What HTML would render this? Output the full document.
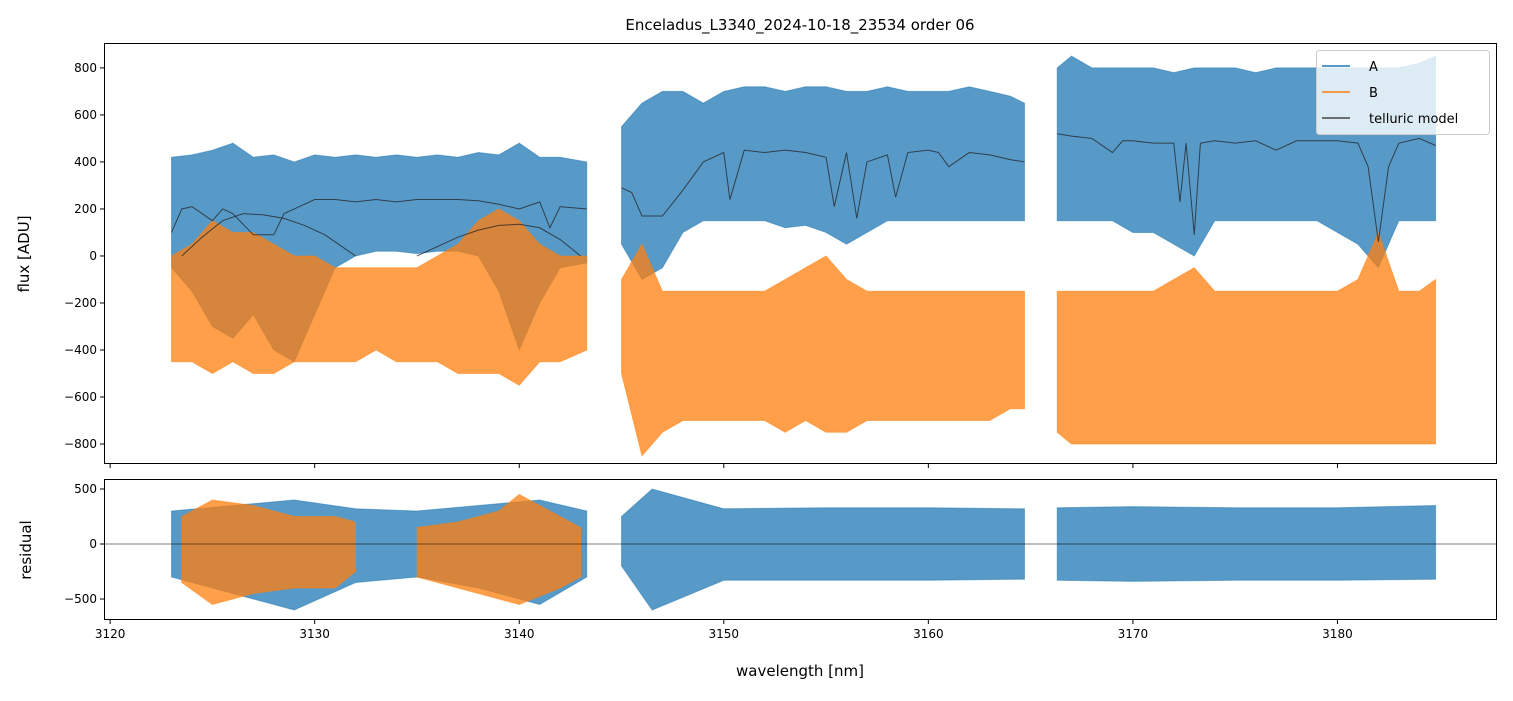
<!DOCTYPE html>
<html><head><meta charset="utf-8"><style>
body{margin:0;background:#fff;font-family:"Liberation Sans","DejaVu Sans",sans-serif}
svg text{font-family:"DejaVu Sans","Liberation Sans",sans-serif}
</style></head><body>
<svg id="c" width="1513" height="696"></svg>
<script>
// ---- data ----
const seg1X=[3123,3124,3125,3126,3127,3128,3129,3130,3131,3132,3133,3134,3135,3136,3137,3138,3139,3140,3141,3142,3143.3];
const seg1AUp=[420,430,450,480,420,430,400,430,420,430,420,430,420,430,420,440,430,480,420,420,400];
const seg1ALo=[-50,-150,-300,-350,-250,-400,-450,-250,-50,0,20,20,10,20,20,0,-150,-400,-200,-50,-30];
const seg1BUp=[0,50,150,100,100,50,0,0,-50,-50,-50,-50,-50,0,50,150,200,150,50,0,0];
const seg1BLo=[-450,-450,-500,-450,-500,-500,-450,-450,-450,-450,-400,-450,-450,-450,-500,-500,-500,-550,-450,-450,-400];
const seg2X=[3145,3146,3147,3148,3149,3150,3151,3152,3153,3154,3155,3156,3157,3158,3159,3160,3161,3162,3163,3164,3164.7];
const seg2AUp=[550,650,700,700,650,700,720,720,700,720,720,700,700,720,700,700,700,720,700,680,650];
const seg2ALo=[50,-100,-50,100,150,150,150,150,120,130,100,50,100,150,150,150,150,150,150,150,150];
const seg2BUp=[-100,50,-150,-150,-150,-150,-150,-150,-100,-50,0,-100,-150,-150,-150,-150,-150,-150,-150,-150,-150];
const seg2BLo=[-500,-850,-750,-700,-700,-700,-700,-700,-750,-700,-750,-750,-700,-700,-700,-700,-700,-700,-700,-650,-650];
const seg3X=[3166.3,3167,3168,3169,3170,3171,3172,3173,3174,3175,3176,3177,3178,3179,3180,3181,3182,3183,3184,3184.8];
const seg3AUp=[800,850,800,800,800,800,780,800,800,800,780,800,800,800,800,800,800,800,820,850];
const seg3ALo=[150,150,150,150,100,100,50,0,150,150,150,150,150,150,100,50,-50,150,150,150];
const seg3BUp=[-150,-150,-150,-150,-150,-150,-100,-50,-150,-150,-150,-150,-150,-150,-150,-100,100,-150,-150,-100];
const seg3BLo=[-750,-800,-800,-800,-800,-800,-800,-800,-800,-800,-800,-800,-800,-800,-800,-800,-800,-800,-800,-800];
const modelX=[3123,3123.5,3124,3125,3125.5,3126,3127,3128,3128.5,3129,3130,3131,3132,3133,3134,3135,3136,3137,3138,3139,3140,3141,3141.5,3142,3143.3,
 3145,3145.5,3146,3147,3148,3149,3150,3150.3,3151,3152,3153,3154,3155,3155.4,3156,3156.5,3157,3158,3158.4,3159,3160,3160.5,3161,3162,3163,3164,3164.7];
const modelY=[100,200,210,150,200,180,90,90,180,200,240,240,230,240,230,240,240,240,235,220,200,230,120,210,200,
 290,270,170,170,280,400,440,240,450,440,450,440,420,210,440,160,400,430,250,440,450,440,380,440,430,410,400];
const model3X=[3166.3,3167,3168,3169,3169.5,3170,3171,3172,3172.3,3172.6,3173,3173.3,3174,3175,3176,3177,3178,3179,3180,3181,3181.5,3182,3182.5,3183,3184,3184.8];
const model3Y=[520,510,500,440,490,490,480,480,230,480,90,480,490,480,490,450,490,490,490,480,380,60,380,480,500,470];
const fit1X=[3123.5,3124.5,3125.5,3126.5,3127.5,3128.5,3129.5,3130.5,3131.5,3132];
const fit1Y=[0,80,150,180,175,160,130,90,30,0];
const fit2X=[3135,3136,3137,3138,3139,3140,3141,3142,3143];
const fit2Y=[0,40,80,110,130,135,120,70,0];
const resSegX=[[3123,3126,3129,3132,3135,3138,3141,3143.3],[3145,3146.5,3150,3155,3160,3164.7],[3166.3,3170,3175,3180,3184.8]];
const resAUp=[[300,350,400,320,300,350,400,300],[250,500,320,330,330,320],[330,340,330,330,350]];
const resALo=[[-300,-450,-600,-350,-300,-400,-550,-300],[-200,-600,-330,-330,-330,-320],[-330,-340,-330,-330,-320]];
const resBX=[[3123.5,3125,3127,3129,3131,3132],[3135,3137,3139,3140,3142,3143]];
const resBUp=[[250,400,350,250,250,200],[150,200,300,450,250,150]];
const resBLo=[[-350,-550,-450,-400,-400,-250],[-300,-400,-500,-550,-400,-300]];
const xTicks=[3120,3130,3140,3150,3160,3170,3180];
const yTicks=[-800,-600,-400,-200,0,200,400,600,800];
const rTicks=[-500,0,500];
// ---- scales ----
const NS='http://www.w3.org/2000/svg',svg=document.getElementById('c');
const X0=104,X1=1497,xMin=3119.7,xMax=3187.8;
const sx=v=>X0+(v-xMin)/(xMax-xMin)*(X1-X0);
const T0=43,T1=464,tMin=-885,tMax=906;
const sy=v=>T1-(v-tMin)/(tMax-tMin)*(T1-T0);
const R0=479,R1=620,rMin=-691,rMax=591;
const ry=v=>R1-(v-rMin)/(rMax-rMin)*(R1-R0);
function el(t,a,p){const e=document.createElementNS(NS,t);for(const k in a)e.setAttribute(k,a[k]);(p||svg).appendChild(e);return e;}
const clipD=el('defs',{});
const c1=el('clipPath',{id:'ct'},clipD);el('rect',{x:X0,y:T0,width:X1-X0,height:T1-T0},c1);
const c2=el('clipPath',{id:'cr'},clipD);el('rect',{x:X0,y:R0,width:X1-X0,height:R1-R0},c2);
const gT=el('g',{'clip-path':'url(#ct)'});
const gR=el('g',{'clip-path':'url(#cr)'});
function band(xs,up,lo,yf,col,g,name){
  let pts=xs.map((x,i)=>sx(x)+','+yf(up[i]));
  for(let i=xs.length-1;i>=0;i--)pts.push(sx(xs[i])+','+yf(lo[i]));
  const p=el('polygon',{points:pts.join(' '),fill:col,'fill-opacity':0.75,stroke:col,'stroke-width':1,'stroke-opacity':0.5},g);
  
  
}
function line(xs,ys,yf,g,name,w,op){
  const p=el('polyline',{points:xs.map((x,i)=>sx(x)+','+yf(ys[i])).join(' '),fill:'none',stroke:'#222','stroke-width':w,'stroke-opacity':op},g);
  
  
}
const A='#1f77b4',B='#ff7f0e';
band(seg1X,seg1AUp,seg1ALo,sy,A,gT,'series-a-seg1');
band(seg2X,seg2AUp,seg2ALo,sy,A,gT,'series-a-seg2');
band(seg3X,seg3AUp,seg3ALo,sy,A,gT,'series-a-seg3');
band(seg1X,seg1BUp,seg1BLo,sy,B,gT,'series-b-seg1');
band(seg2X,seg2BUp,seg2BLo,sy,B,gT,'series-b-seg2');
band(seg3X,seg3BUp,seg3BLo,sy,B,gT,'series-b-seg3');
line(modelX.slice(0,25),modelY.slice(0,25),sy,gT,'telluric-model-seg1',1,0.75);
line(modelX.slice(25),modelY.slice(25),sy,gT,'telluric-model-seg2',1,0.75);
line(model3X,model3Y,sy,gT,'telluric-model-seg3',1,0.75);
line(fit1X,fit1Y,sy,gT,'continuum-fit-1',1,0.75);
line(fit2X,fit2Y,sy,gT,'continuum-fit-2',1,0.75);
resSegX.forEach((xs,i)=>band(xs,resAUp[i],resALo[i],ry,A,gR,'residual-a-seg'+(i+1)));
resBX.forEach((xs,i)=>band(xs,resBUp[i],resBLo[i],ry,B,gR,'residual-b-seg'+(i+1)));
const zl=el('line',{x1:X0,x2:X1,y1:ry(0),y2:ry(0),stroke:'#000','stroke-width':0.6},gR);

[[T0,T1,'flux-axes-frame'],[R0,R1,'residual-axes-frame']].forEach(([a,b,n])=>{
  const r=el('rect',{x:X0+.5,y:a+.5,width:X1-X0-1,height:b-a-1,fill:'none',stroke:'#000','stroke-width':1});
  
});
function txt(x,y,s,sz,anc,name,rot){
  const t=el('text',{x:x,y:y,'font-size':sz,'text-anchor':anc,fill:'#000'});
  if(rot)t.setAttribute('transform',`rotate(-90 ${x} ${y})`);
  t.textContent=s;return t;
}
xTicks.forEach(v=>{
  const x=sx(v);
  el('line',{x1:x,x2:x,y1:T1,y2:T1+4,stroke:'#000'});
  el('line',{x1:x,x2:x,y1:R1,y2:R1+4,stroke:'#000'});
  txt(x,638,String(v),12,'middle','x-tick-label');
});
yTicks.forEach(v=>{
  const y=sy(v);el('line',{x1:X0-4,x2:X0,y1:y,y2:y,stroke:'#000'});
  txt(X0-7,y+4,v<0?'\u2212'+(-v):String(v),12,'end','y-tick-label');
});
rTicks.forEach(v=>{
  const y=ry(v);el('line',{x1:X0-4,x2:X0,y1:y,y2:y,stroke:'#000'});
  txt(X0-7,y+4,v<0?'\u2212'+(-v):String(v),12,'end','residual-tick-label');
});
txt(800,30,'Enceladus_L3340_2024-10-18_23534  order 06',15,'middle','chart-title');
txt(800,676,'wavelength [nm]',15,'middle','x-axis-title');
txt(29,254,'flux [ADU]',15,'middle','y-axis-title',true);
txt(31,550,'residual',15,'middle','residual-axis-title',true);
const lg=el('g',{});
el('rect',{x:1316.5,y:50.5,width:173,height:84,rx:3,fill:'#fff','fill-opacity':0.8,stroke:'#ccc'},lg);
[['A',A,66],['B',B,92],['telluric model','#444',118]].forEach(([s,c,y])=>{
  el('line',{x1:1322,x2:1350,y1:y,y2:y,stroke:c,'stroke-width':1.5},lg);
  const t=txt(1369,y+5,s,13,'start','legend-entry');lg.appendChild(t);
});
</script>
</body></html>
